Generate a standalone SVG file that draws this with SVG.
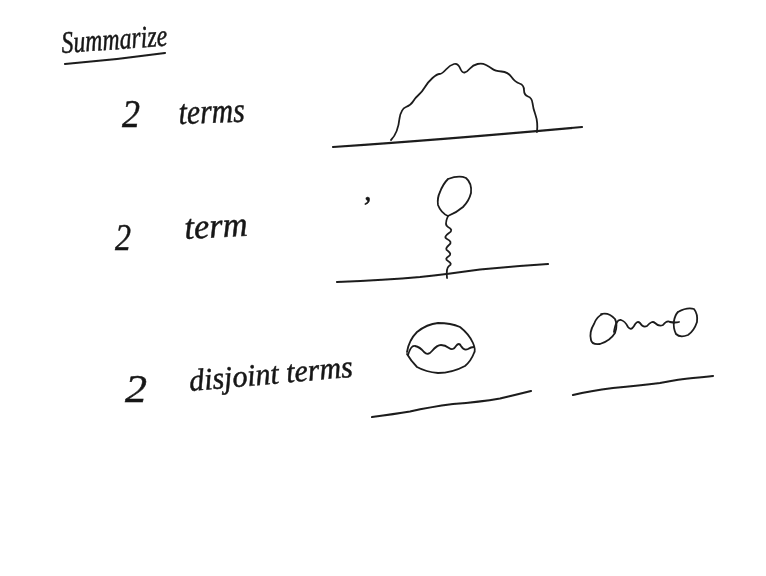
<svg xmlns="http://www.w3.org/2000/svg" width="766" height="576" viewBox="0 0 766 576">
<style>
.hand{font-family:"Liberation Serif",serif;font-style:italic;fill:#161616;stroke:#161616;stroke-width:.5}
.num{font-family:"Liberation Serif",serif;font-style:italic;fill:#161616;stroke:#161616;stroke-width:.5}
.ink{fill:none;stroke:#1c1c1c;stroke-width:1.8;stroke-linecap:round;stroke-linejoin:round}
.base{stroke-width:2.2}
</style>
<defs><filter id="soft" x="-5%" y="-5%" width="110%" height="110%"><feGaussianBlur stdDeviation="0.3"/></filter></defs>
<rect width="766" height="576" fill="#fff"/>
<g filter="url(#soft)">
<g id="labels">
<text class="hand" x="62" y="53" font-size="31" textLength="106" lengthAdjust="spacingAndGlyphs" transform="rotate(-4 62 53)">Summarize</text>
<text class="num" x="122" y="127" font-size="41" textLength="18" lengthAdjust="spacingAndGlyphs">2</text>
<text class="hand" x="179" y="124" font-size="35" textLength="66" lengthAdjust="spacingAndGlyphs" transform="rotate(-2 179 124)">terms</text>
<text class="num" x="115" y="250" font-size="38" textLength="16" lengthAdjust="spacingAndGlyphs">2</text>
<text class="hand" x="185" y="239" font-size="35" textLength="63" lengthAdjust="spacingAndGlyphs" transform="rotate(-3 185 239)">term</text>
<text class="num" x="125" y="402" font-size="41" textLength="22" lengthAdjust="spacingAndGlyphs">2</text>
<text class="hand" x="190" y="391" font-size="31" textLength="164" lengthAdjust="spacingAndGlyphs" transform="rotate(-5 190 391)">disjoint terms</text>
<text class="hand" x="364" y="200" font-size="30">,</text>
</g>
<path id="underline" class="ink base" d="M65 64 Q115 60 165 53"/>
<g id="connectors">
<path class="ink base" d="M333 147 Q450 139 582 127"/>
<path class="ink" d="M391 140 Q398 133 399.5 118.5 Q401 109 406 107 Q411 105 413 101.5 Q415 98 418.5 95 Q422 92 425 87 Q428 82 432.5 78 Q437 74 439.5 74 Q442 74 446 69.5 Q450 65 454 64 Q458 63 460 68 Q462 73 464.5 72.5 Q467 72 470 68.5 Q473 65 477.5 64 Q482 63 486 65 Q490 67 492.5 69 Q495 71 501.5 71.5 Q508 72 511.5 77 Q515 82 519.5 83.5 Q524 85 524 90 Q524 95 528 96.5 Q532 98 532.5 103 Q533 108 535.5 115 Q538 122 537 132"/>
<path class="ink base" d="M337 282 Q386 280 420 277 Q447 274 480 269.5 Q515 266 548 264"/>
<path class="ink" d="M448 216 Q444 225 448 227 Q454 230 449 233 Q443 237 447 239 Q453 242 449 245 Q444 249 448 251 Q452 254 449 256 Q444 259 448 261 Q453 264 449 266 Q446 268 447 278"/>
<path class="ink base" d="M372 417 Q395 414 410 411.5 Q430 407 453 404 Q480 402 500 398.5 Q515 395 531 391"/>
<path class="ink base" d="M573 395 Q590 391 613 388 Q640 385.500 660 383 Q680 379 693 378 Q705 377 713 376"/>
<path class="ink" d="M408 355 Q411 345 415 346 Q420 347 424 352 Q428 356 432 351 Q437 345 441 345 Q445 345 449 348 Q453 351 456 346 Q459 342 461 346 Q464 351 468 349 Q471 347 474 347"/>
<path class="ink" d="M614 332 Q616 319 621 320 Q625 321 628 327 Q631 331 634 326 Q637 320 640 323 Q643 328 647 326 Q652 320 655 323 Q659 327 663 325 Q667 320 670 322 Q675 323 679 322"/>
</g>
<g id="tadpole-loop"><path class="ink" d="M448 179 Q459 175 466 178 Q472 183 471 193 Q469 201 463 207 Q456 213 448 216 Q441 213 438 205 Q437 198 440 192 Q443 184 448 179"/></g>
<g id="vacuum-bubble"><path class="ink" d="M407 352 Q409 340 417 332 Q427 324 438 323 Q451 323 460 327 Q469 334 473 343 Q476 350 474 353 Q471 361 465 366 Q452 373 438 373 Q426 372 417 367 Q411 361 407 354"/></g>
<g id="left-loop"><path class="ink" d="M601 314 Q609 312 615 319 Q618 325 615 333 Q610 341 600 344 Q592 345 591 340 Q589 332 594 324 Q597 316 603 314"/></g>
<g id="right-loop"><path class="ink" d="M678 312 Q687 307 694 309 Q698 314 697 322 Q694 331 688 335 Q680 338 676 334 Q673 328 674 321 Q675 315 678 312"/></g>
</g>
</svg>
